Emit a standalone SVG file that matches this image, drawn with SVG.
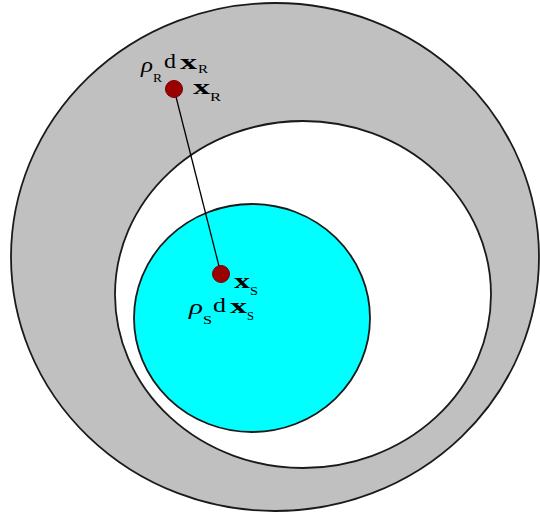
<svg xmlns="http://www.w3.org/2000/svg" width="540" height="514" viewBox="0 0 540 514">
<style>
.ring{stroke:#1a1a1a;stroke-width:1.8}
.dot{fill:#990000;stroke:#7a0000;stroke-width:1}
.t{font-family:"Liberation Serif","Times New Roman",serif;fill:#000}
.rho{font-size:21px;font-style:italic}
.m{font-size:20px}
.b{font-size:20px;font-weight:bold}
.s{font-size:12px}
</style>
<rect width="540" height="514" fill="#fff"/>
<g id="outer"><ellipse class="ring" cx="275" cy="257" rx="264" ry="254" fill="#c0c0c0"/></g>
<g id="inner"><ellipse class="ring" cx="303" cy="294.5" rx="188" ry="173.5" fill="#fff"/></g>
<g id="source"><ellipse class="ring" cx="252" cy="318" rx="118" ry="114" fill="#00ffff"/></g>
<g id="connectors"><line x1="174" y1="89" x2="221" y2="274" stroke="#000" stroke-width="1.3"/></g>
<g id="pointR">
<circle class="dot" cx="174" cy="89" r="8.5"/>
<text class="t rho" x="141" y="72" textLength="12" lengthAdjust="spacingAndGlyphs">ρ</text>
<text class="t s" x="153" y="82" textLength="9" lengthAdjust="spacingAndGlyphs">R</text>
<text class="t m" x="164" y="68" textLength="12" lengthAdjust="spacingAndGlyphs">d</text>
<text class="t b" x="180" y="69" textLength="17" lengthAdjust="spacingAndGlyphs">x</text>
<text class="t s" x="198" y="73" textLength="10" lengthAdjust="spacingAndGlyphs">R</text>
<text class="t b" x="193" y="94" textLength="17" lengthAdjust="spacingAndGlyphs">x</text>
<text class="t s" x="210" y="101" textLength="11" lengthAdjust="spacingAndGlyphs">R</text>
</g>
<g id="pointS">
<circle class="dot" cx="221" cy="274" r="8.5"/>
<text class="t b" x="234" y="288" textLength="16" lengthAdjust="spacingAndGlyphs">x</text>
<text class="t s" x="250" y="295" textLength="8" lengthAdjust="spacingAndGlyphs">S</text>
<text class="t rho" x="189" y="314" textLength="14" lengthAdjust="spacingAndGlyphs">ρ</text>
<text class="t s" x="203" y="324" textLength="9" lengthAdjust="spacingAndGlyphs">S</text>
<text class="t m" x="213" y="312" textLength="13" lengthAdjust="spacingAndGlyphs">d</text>
<text class="t b" x="230" y="313" textLength="17" lengthAdjust="spacingAndGlyphs">x</text>
<text class="t s" x="247" y="320" textLength="7" lengthAdjust="spacingAndGlyphs">S</text>
</g>
</svg>
